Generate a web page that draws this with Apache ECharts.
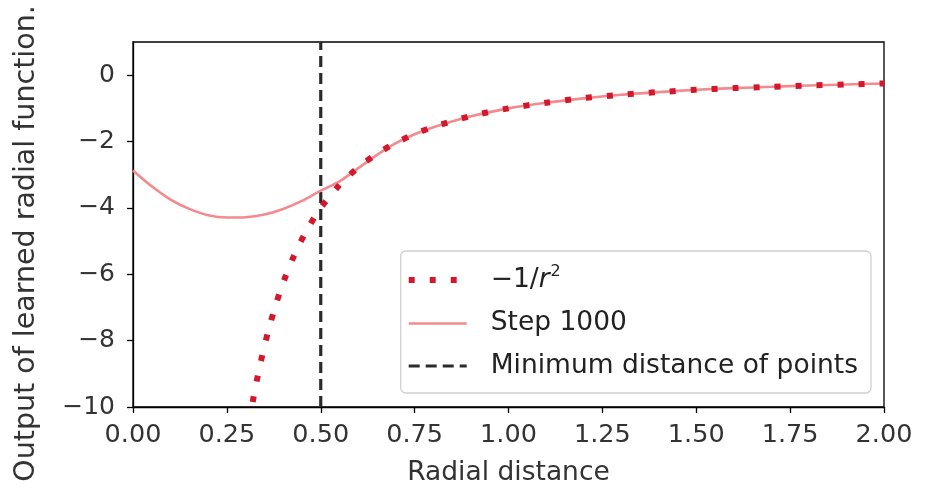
<!DOCTYPE html>
<html>
<head>
<meta charset="utf-8">
<script src="https://cdn.jsdelivr.net/npm/echarts@6/dist/echarts.min.js"></script>
<style>
html,body{margin:0;padding:0;background:#fff;}
#chart{width:926px;height:489px;}
</style>
</head>
<body>
<div id="chart"></div>
<script>
// -1/r^2 reference curve
const invSqX = [0.30,0.32,0.34,0.36,0.38,0.40,0.43,0.46,0.50,0.55,0.60,0.65,0.70,0.75,0.80,0.90,1.00,1.10,1.20,1.30,1.40,1.50,1.60,1.70,1.80,1.90,2.00];
const invSqY = [-11.1,-9.77,-8.65,-7.72,-6.93,-6.25,-5.41,-4.73,-4.00,-3.31,-2.78,-2.37,-2.04,-1.78,-1.56,-1.23,-1.00,-0.83,-0.69,-0.59,-0.51,-0.44,-0.39,-0.35,-0.31,-0.28,-0.25];
// Learned function, step 1000
const stepX = [0.00,0.05,0.10,0.15,0.20,0.25,0.30,0.35,0.40,0.45,0.50,0.55,0.60,0.65,0.70,0.75,0.80,0.90,1.00,1.10,1.20,1.30,1.40,1.50,1.60,1.70,1.80,1.90,2.00];
const stepY = [-2.87,-3.35,-3.75,-4.03,-4.22,-4.29,-4.28,-4.20,-4.03,-3.79,-3.48,-3.20,-2.80,-2.40,-2.05,-1.78,-1.57,-1.24,-1.00,-0.83,-0.70,-0.59,-0.51,-0.44,-0.39,-0.35,-0.31,-0.28,-0.25];
// Minimum distance of points
const minDist = 0.5;
const minDistYSpan = [-10, 1];
// Axis ticks
const xTicks = [0,0.25,0.5,0.75,1.0,1.25,1.5,1.75,2.0];
const yTicks = [-10,-8,-6,-4,-2,0];
const seriesNames = ['\u22121/r2', 'Step 1000', 'Minimum distance of points'];

const FONT = 'DejaVu Sans';
const chart = echarts.init(document.getElementById('chart'), null, {renderer:'canvas'});

const zip = (xs, ys) => xs.map((x,i)=>[x, ys[i]]);

const styles = {
  inv:{color:'#d3182c', width:6, type:[6,15], cap:'butt'},
  step:{color:'#f28a8e', width:2.6},
  min:{color:'#2b2b2b', width:3.2, type:[11,6], cap:'butt'}
};

chart.setOption({
  backgroundColor:'#fff',
  animation:false,
  textStyle:{fontFamily:FONT},
  grid:{left:133, right:42, top:42, bottom:82, show:true, borderColor:'#000', borderWidth:1.3, backgroundColor:'transparent', containLabel:false, outerBoundsMode:'none'},
  xAxis:{
    type:'value', min:0, max:2, interval:0.25,
    name:'Radial distance', nameLocation:'middle', nameGap:53,
    nameTextStyle:{fontFamily:FONT, fontSize:26.5, color:'#333'},
    axisLine:{show:true, onZero:false, lineStyle:{color:'#000', width:1.3}},
    axisTick:{show:true, inside:false, length:6, lineStyle:{color:'#000', width:1.3}, customValues:xTicks},
    axisLabel:{fontFamily:FONT, fontSize:25.5, color:'#333', margin:15, customValues:xTicks, formatter:v=>v.toFixed(2)},
    splitLine:{show:false}
  },
  yAxis:{
    type:'value', min:-10, max:1,
    name:'Output of learned radial function.', nameLocation:'middle', nameGap:92,
    nameTextStyle:{fontFamily:FONT, fontSize:28.5, color:'#333', padding:[0,38,0,0]},
    axisLine:{show:true, onZero:false, lineStyle:{color:'#000', width:1.3}},
    axisTick:{show:true, inside:false, length:6, lineStyle:{color:'#000', width:1.3}, customValues:yTicks},
    axisLabel:{fontFamily:FONT, fontSize:25, color:'#333', margin:18, customValues:yTicks, formatter:v=>v<0?'\u2212'+Math.abs(v):String(v)},
    splitLine:{show:false}
  },
  legend:{
    orient:'vertical', right:55, bottom:96,
    backgroundColor:'#fff', borderColor:'#d0d0d0', borderWidth:1.3, borderRadius:5,
    padding:[13,13,12,5], itemGap:12.5, itemWidth:58, itemHeight:20,
    itemStyle:{opacity:0},
    data:[
      {name:seriesNames[0], itemStyle:{opacity:0}, lineStyle:styles.inv},
      {name:seriesNames[1], itemStyle:{opacity:0}, lineStyle:styles.step},
      {name:seriesNames[2], itemStyle:{opacity:0}, lineStyle:styles.min}
    ],
    textStyle:{fontFamily:FONT, fontSize:26.5, color:'#222', lineHeight:30,
      rich:{
        g:{width:19},
        a:{fontFamily:FONT, fontSize:26.5, color:'#222', lineHeight:30},
        i:{fontFamily:FONT, fontSize:26.5, fontStyle:'italic', color:'#222', lineHeight:30},
        s:{fontFamily:FONT, fontSize:16, color:'#222', lineHeight:16, padding:[0,0,16,1]}
      }},
    formatter:function(n){
      if(n===seriesNames[0]) return '{g|}{a|\u22121/}{i|r}{s|2}';
      return '{g|}{a|' + n + '}';
    }
  },
  series:[
    {
      name:seriesNames[2], type:'line', data:zip([minDist,minDist], minDistYSpan),
      symbol:'none', z:1, silent:true, lineStyle:styles.min
    },
    {
      name:seriesNames[1], type:'line', data:zip(stepX, stepY), smooth:0.3,
      symbol:'none', z:2, clip:true, lineStyle:styles.step
    },
    {
      name:seriesNames[0], type:'line', data:zip(invSqX, invSqY), smooth:0.3,
      symbol:'none', z:3, clip:true, lineStyle:styles.inv
    }
  ]
});
</script>
</body>
</html>
